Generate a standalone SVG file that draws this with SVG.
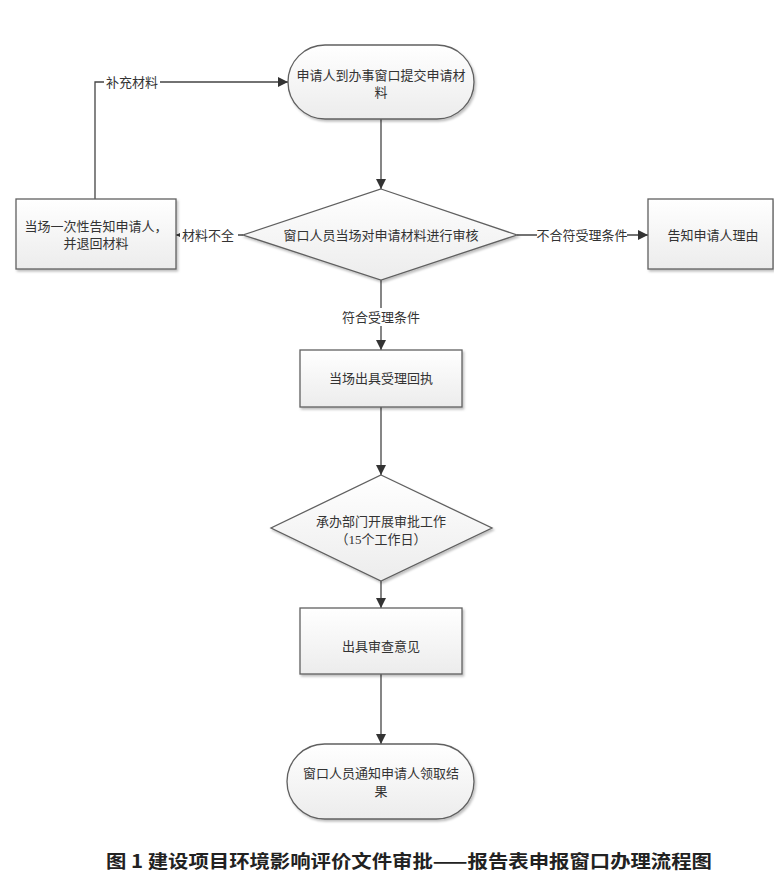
<svg xmlns="http://www.w3.org/2000/svg" width="774" height="896" viewBox="0 0 774 896">
<defs>
<linearGradient id="g" x1="0" y1="0" x2="0" y2="1">
<stop offset="0" stop-color="#ffffff"/>
<stop offset="1" stop-color="#ececec"/>
</linearGradient>
<filter id="sh" x="-10%" y="-10%" width="125%" height="130%">
<feDropShadow dx="1.5" dy="2" stdDeviation="1.2" flood-color="#000" flood-opacity="0.25"/>
</filter>
<marker id="ar" viewBox="0 0 10 10" refX="10" refY="5" markerWidth="10" markerHeight="10" markerUnits="userSpaceOnUse" orient="auto">
<path d="M0,0 L10,5 L0,10 z" fill="#333"/>
</marker>
<style>
.n{fill:url(#g);stroke:#606060;stroke-width:1.3;filter:url(#sh)}
.t{font-family:"Liberation Serif","Noto Sans CJK SC",serif;font-size:13px;fill:#333;text-anchor:middle}
.l{font-family:"Liberation Serif","Noto Sans CJK SC",serif;font-size:13px;fill:#333;text-anchor:middle}
.c{fill:none;stroke:#444;stroke-width:1.3}
.bg{fill:#fff}
</style>
</defs>
<rect width="774" height="896" fill="#fff"/>
<g id="connectors">
<path class="c" d="M95,199 V82 H288" marker-end="url(#ar)"/>
<rect class="bg" x="104" y="73" width="56" height="18"/>
<text class="l" x="132" y="87">补充材料</text>
<path class="c" d="M381,119 V189" marker-end="url(#ar)"/>
<path class="c" d="M243,235 H176" marker-end="url(#ar)"/>
<rect class="bg" x="180" y="226" width="58" height="18"/>
<text class="l" x="208" y="240">材料不全</text>
<path class="c" d="M517,235 H648" marker-end="url(#ar)"/>
<rect class="bg" x="537" y="226" width="90" height="18"/>
<text class="l" x="582" y="240">不合符受理条件</text>
<path class="c" d="M381,280 V350" marker-end="url(#ar)"/>
<rect class="bg" x="338" y="308" width="86" height="18"/>
<text class="l" x="381" y="322">符合受理条件</text>
<path class="c" d="M381,407 V475" marker-end="url(#ar)"/>
<path class="c" d="M381,581 V608" marker-end="url(#ar)"/>
<path class="c" d="M381,674 V744" marker-end="url(#ar)"/>
</g>
<g id="start">
<rect class="n" x="288" y="45" width="186" height="74" rx="37" ry="37"/>
<text class="t" x="381" y="80">申请人到办事窗口提交申请材</text>
<text class="t" x="381" y="97">料</text>
</g>
<g id="review">
<polygon class="n" points="381,189 517,235 381,280 243,235"/>
<text class="t" x="381" y="240">窗口人员当场对申请材料进行审核</text>
</g>
<g id="notify-once">
<rect class="n" x="16" y="199" width="160" height="70"/>
<text class="t" x="96" y="231">当场一次性告知申请人，</text>
<text class="t" x="96" y="248">并退回材料</text>
</g>
<g id="reason">
<rect class="n" x="648" y="199" width="125" height="70"/>
<text class="t" x="713" y="240">告知申请人理由</text>
</g>
<g id="receipt">
<rect class="n" x="300" y="350" width="162" height="57"/>
<text class="t" x="381" y="383">当场出具受理回执</text>
</g>
<g id="approve">
<polygon class="n" points="381,475 492,528 381,581 271,528"/>
<text class="t" x="381" y="526">承办部门开展审批工作</text>
<text class="t" x="381" y="544">（15个工作日）</text>
</g>
<g id="opinion">
<rect class="n" x="300" y="608" width="162" height="66"/>
<text class="t" x="381" y="651">出具审查意见</text>
</g>
<g id="end">
<rect class="n" x="287" y="744" width="187" height="75" rx="37.5" ry="37.5"/>
<text class="t" x="381" y="778">窗口人员通知申请人领取结</text>
<text class="t" x="381" y="796">果</text>
</g>
<text x="409" y="868" font-family="'Noto Sans CJK SC',sans-serif" font-weight="bold" font-size="18" fill="#222" text-anchor="middle" textLength="606" lengthAdjust="spacingAndGlyphs">图 1 建设项目环境影响评价文件审批——报告表申报窗口办理流程图</text>
</svg>
